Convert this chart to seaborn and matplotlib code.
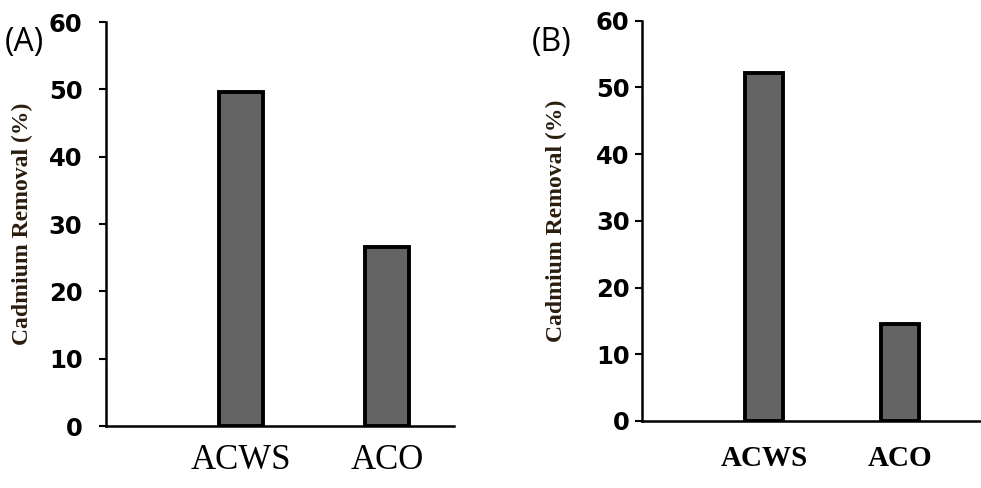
import matplotlib
matplotlib.use("Agg")
import matplotlib.pyplot as plt
import seaborn as sns
import pandas as pd

categories = ["ACWS", "ACO"]
values_a = [49.6, 26.6]
values_b = [52.2, 14.5]
yticks = [0, 10, 20, 30, 40, 50, 60]
ylabel = "Cadmium Removal (%)"
panel_labels = ["(A)", "(B)"]

sns.set_theme(style="white")
plt.rcParams['font.family'] = ['DejaVu Sans']

fig = plt.figure(figsize=(9.81, 4.88), dpi=100)
ax_a = fig.add_axes([106/981, 1-426/488, (454-106)/981, (426-22)/488])
ax_b = fig.add_axes([642/981, 1-421/488, (981-642)/981, (421-20.7)/488])

specs = [
    (ax_a, values_a, 0.30, (-0.925, 1.46), -0.21, 25, "normal", 13, 12),
    (ax_b, values_b, 0.28, (-0.90, 1.60), -0.221, 21, "bold", 17, 4),
]

for ax, vals, w, xl, ylx, xfs, xfw, xpad, ypad in specs:
    df = pd.DataFrame({"cat": categories, "val": vals})
    sns.barplot(data=df, x="cat", y="val", color="#646464", saturation=1,
                edgecolor="black", linewidth=2.8, width=w, ax=ax)
    ax.set_xlim(*xl)
    ax.set_ylim(0, 60)
    ax.set_yticks(yticks)
    ax.set_yticklabels([str(t) for t in yticks], fontsize=17.5, fontweight="bold",
                       family="DejaVu Sans", color="black")
    ax.set_xticks(range(len(categories)))
    ax.set_xticklabels(categories, fontsize=xfs, fontweight=xfw,
                       family="Liberation Serif", color="black")
    ax.tick_params(axis="y", direction="out", length=5, width=1.5,
                   color="black", left=True, pad=ypad)
    ax.tick_params(axis="x", length=0, pad=xpad)
    ax.set_xlabel("")
    ax.set_ylabel(ylabel, fontsize=17, fontweight="bold",
                  family="Liberation Serif", color="#2b1d0e")
    ax.yaxis.set_label_coords(ylx, 0.5)
    for s in ["top", "right"]:
        ax.spines[s].set_visible(False)
    for s in ["left", "bottom"]:
        ax.spines[s].set_color("black")
        ax.spines[s].set_linewidth(1.8)
    ax.set_facecolor("white")

fig.text(5/981, 1-42/488, panel_labels[0], fontsize=23, family="Open Sans",
         ha="left", va="center", color="black")
fig.text(532/981, 1-42/488, panel_labels[1], fontsize=23, family="Open Sans",
         ha="left", va="center", color="black")

fig.savefig("out.png", dpi=100, facecolor="white")
